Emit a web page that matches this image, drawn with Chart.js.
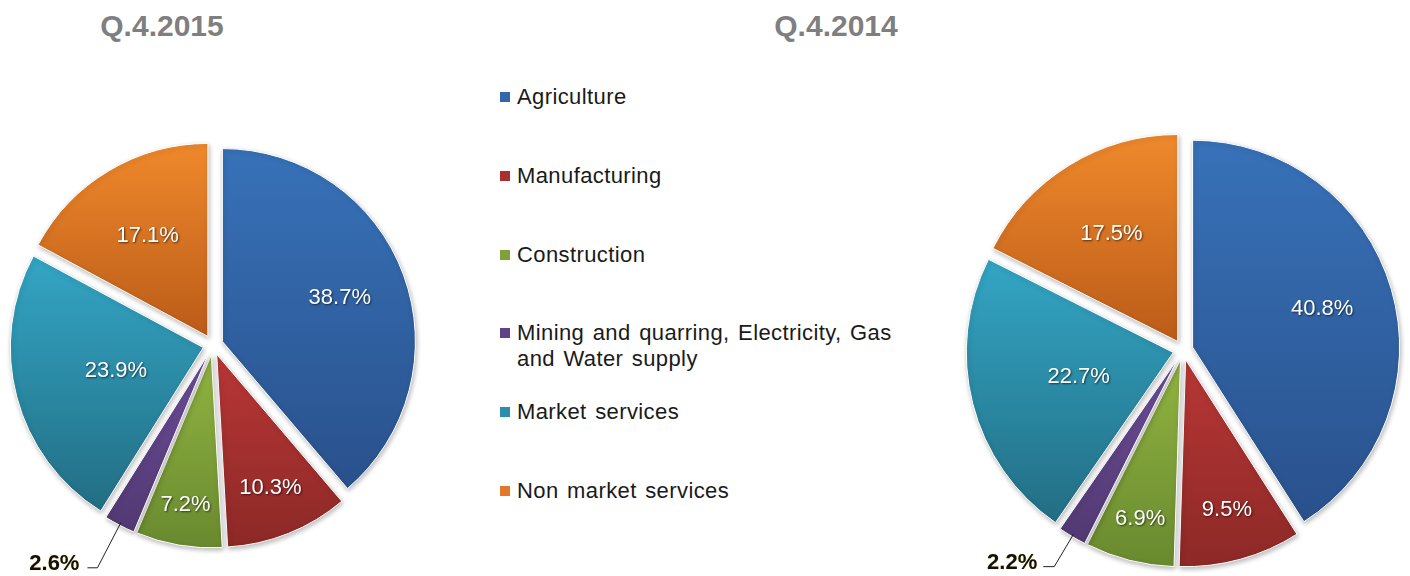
<!DOCTYPE html>
<html>
<head>
<meta charset="utf-8">
<script src="https://cdn.jsdelivr.net/npm/chart.js@4.4.1/dist/chart.umd.min.js"></script>
<style>
  html, body { margin: 0; padding: 0; background: #fff; width: 1410px; height: 576px; overflow: hidden;
    font-family: "Liberation Sans", Arial, sans-serif; }
  .title { position: absolute; top: 9px; font-weight: bold; font-size: 30px; color: #7f7f7f;
    transform: translateX(-50%); white-space: nowrap; }
  .box { position: absolute; }
  .item { position: absolute; left: 500px; width: 400px; display: flex; align-items: flex-start;
    font-size: 22px; line-height: 26px; color: #1a1a1a; letter-spacing: 0.4px; word-spacing: 2px; }
  .sw { width: 10px; height: 10px; margin-top: 8px; margin-right: 7px; flex: none; }
  .txt { max-width: 385px; }
</style>
</head>
<body>
<div class="title" id="t0" style="left:162px"></div>
<div class="title" id="t1" style="left:836px"></div>
<div id="legend"></div>
<div class="box" style="left:0px;top:110px;width:426px;height:470px"><canvas id="pie2015"></canvas></div>
<div class="box" style="left:956px;top:110px;width:454px;height:480px"><canvas id="pie2014"></canvas></div>
<script>
(function() {

  "use strict";

  var periods = ["Q.4.2015", "Q.4.2014"];
  var categories = ["Agriculture", "Manufacturing", "Construction",
    "Mining and quarring, Electricity, Gas and Water supply", "Market services", "Non market services"];
  var share2015 = [38.7, 10.3, 7.2, 2.6, 23.9, 17.1];
  var share2014 = [40.8, 9.5, 6.9, 2.2, 22.7, 17.5];

  var topColors = ['#3872b9', '#b63635', '#8fb240', '#6b4c97', '#33a5c4', '#f28b2d'];
  var bottomColors = ['#29518c', '#8a2826', '#67872e', '#503870', '#226d83', '#bd5d19'];
  var swatchColors = ['#3566ac', '#a83130', '#80a03a', '#5f4386', '#2b8eaa', '#e2782a'];

  // label distance from centre, as a share of the radius (null = outside with a leader line)
  var labelPos = [0.70, 0.80, 0.84, null, 0.52, 0.66];
  var OFFSET = 10;

  // pie slices pulled out of the centre by a fixed distance, without growing small ones
  class ExplodedArc extends Chart.ArcElement {
    draw(ctx) {
      var mid = (this.startAngle + this.endAngle) / 2;
      ctx.save();
      ctx.translate(Math.cos(mid) * OFFSET, Math.sin(mid) * OFFSET);
      super.draw(ctx);
      ctx.restore();
    }
  }
  ExplodedArc.id = 'explodedArc';

  class ExplodedPie extends Chart.PieController {}
  ExplodedPie.id = 'explodedPie';
  ExplodedPie.defaults = { dataElementType: 'explodedArc' };

  Chart.register(ExplodedArc, ExplodedPie);

  document.getElementById('t0').textContent = periods[0];
  document.getElementById('t1').textContent = periods[1];

  var legend = document.getElementById('legend');
  categories.forEach(function(c, i) {
    var row = document.createElement('div');
    row.className = 'item';
    row.style.top = (84 + i * 78.8) + 'px';
    row.innerHTML = '<span class="sw" style="background:' + swatchColors[i] + '"></span><span class="txt">' + c + '</span>';
    legend.appendChild(row);
  });

  // vertical gradient for each slice, from its own top to bottom
  function sliceFill(values, R) {
    return function(c) {
      var i = c.dataIndex, area = c.chart.chartArea;
      if (!area || i === undefined) return swatchColors[i] || '#888';
      var total = 0, before = 0;
      values.forEach(function(v, k) { total += v; if (k < i) before += v; });
      var a0 = -Math.PI / 2 + 2 * Math.PI * before / total;
      var a1 = a0 + 2 * Math.PI * values[i] / total;
      var mid = (a0 + a1) / 2;
      var cx = (area.left + area.right) / 2, cy = (area.top + area.bottom) / 2;
      var ys = [cy, cy + R * Math.sin(a0), cy + R * Math.sin(a1)];
      if (a0 < Math.PI / 2 && a1 > Math.PI / 2) ys.push(cy + R);
      if (a1 > 1.5 * Math.PI) ys.push(cy - R);
      var dy = Math.sin(mid) * OFFSET;
      var g = c.chart.ctx.createLinearGradient(0, Math.min.apply(null, ys) + dy, 0, Math.max.apply(null, ys) + dy);
      g.addColorStop(0, topColors[i]);
      g.addColorStop(1, bottomColors[i]);
      return g;
    };
  }

  var sliceLabels = {
    id: 'sliceLabels',
    beforeDatasetsDraw: function(chart) {
      var ctx = chart.ctx;
      ctx.save();
      ctx.shadowColor = 'rgba(0,0,0,0.28)';
      ctx.shadowBlur = 5;
      ctx.shadowOffsetX = 1;
      ctx.shadowOffsetY = 2;
    },
    afterDatasetsDraw: function(chart, args, opts) {
      var ctx = chart.ctx;
      ctx.restore();
      var values = chart.data.datasets[0].data;
      chart.getDatasetMeta(0).data.forEach(function(arc, i) {
        var p = arc.getProps(['x', 'y', 'startAngle', 'endAngle', 'outerRadius'], true);
        var mid = (p.startAngle + p.endAngle) / 2;
        var cs = Math.cos(mid), sn = Math.sin(mid);
        var text = values[i].toFixed(1) + '%';
        ctx.save();
        if (labelPos[i] !== null) {
          var r = p.outerRadius * labelPos[i];
          ctx.font = '22px "Liberation Sans", Arial, sans-serif';
          ctx.textAlign = 'center';
          ctx.textBaseline = 'middle';
          ctx.shadowColor = 'rgba(0,0,0,0.6)';
          ctx.shadowBlur = 2;
          ctx.shadowOffsetX = 1;
          ctx.shadowOffsetY = 1;
          ctx.fillStyle = '#ffffff';
          ctx.fillText(text, p.x + cs * r, p.y + sn * r);
        } else {
          var r0 = p.outerRadius + OFFSET - 3;
          var r1 = p.outerRadius + OFFSET + opts.leader;
          var ex = p.x + cs * r1, ey = p.y + sn * r1;
          ctx.strokeStyle = '#222';
          ctx.lineWidth = 1;
          ctx.beginPath();
          ctx.moveTo(p.x + cs * r0, p.y + sn * r0);
          ctx.lineTo(ex, ey);
          ctx.lineTo(ex - opts.tail, ey);
          ctx.stroke();
          ctx.font = 'bold 22px "Liberation Sans", Arial, sans-serif';
          ctx.textAlign = 'right';
          ctx.textBaseline = 'alphabetic';
          ctx.shadowColor = 'rgba(255,220,120,0.8)';
          ctx.shadowBlur = 2;
          ctx.fillStyle = '#111';
          ctx.fillText(text, ex - opts.tail - opts.gap, ey + 2);
        }
        ctx.restore();
      });
    }
  };

  function makePie(id, values, R, leader, tail, gap) {
    return new Chart(document.getElementById(id), {
      type: 'explodedPie',
      data: {
        labels: categories,
        datasets: [{
          data: values,
          radius: R,
          borderWidth: 1,
          borderColor: '#ffffff',
          backgroundColor: sliceFill(values, R)
        }]
      },
      options: {
        responsive: true,
        maintainAspectRatio: false,
        animation: false,
        events: [],
        layout: { padding: 0 },
        plugins: {
          legend: { display: false },
          tooltip: { enabled: false },
          sliceLabels: { leader: leader, tail: tail, gap: gap }
        }
      },
      plugins: [sliceLabels]
    });
  }

  var pie2015 = makePie('pie2015', share2015, 193, 48, 10, 8);
  var pie2014 = makePie('pie2014', share2014, 207, 35, 11, 6);

})();
</script>
</body>
</html>
